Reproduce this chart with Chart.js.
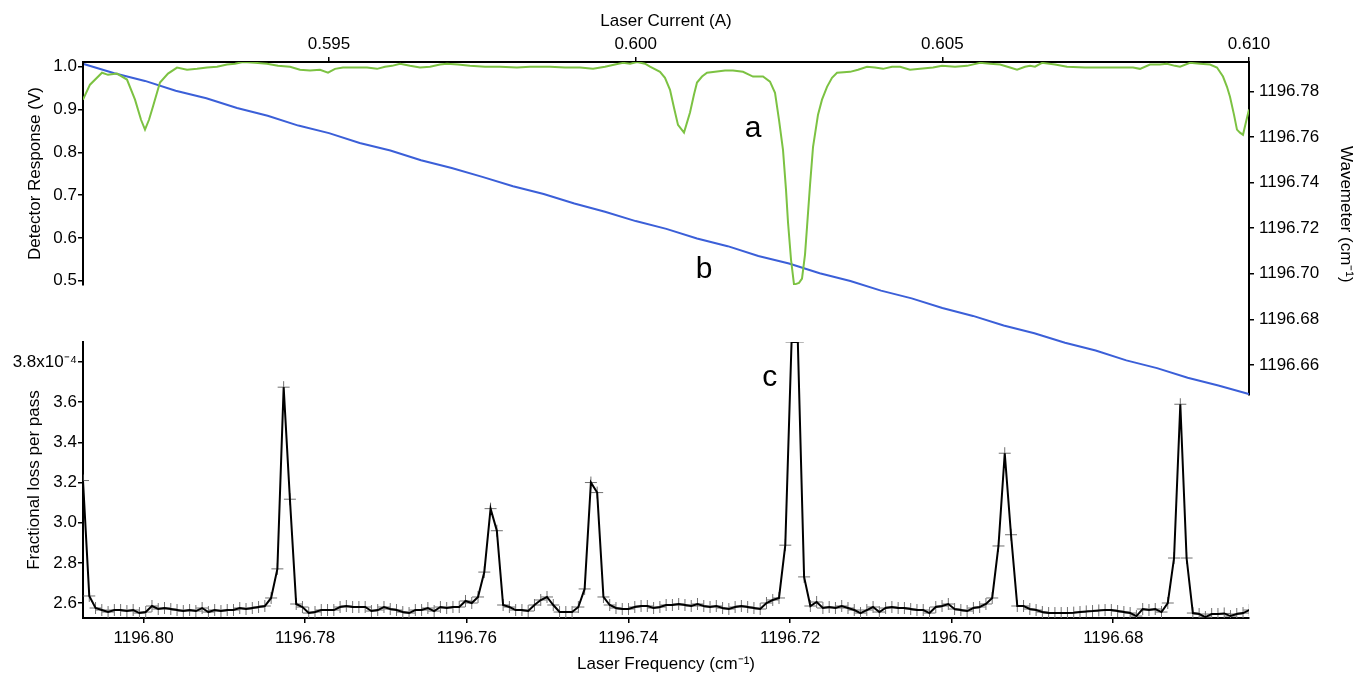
<!DOCTYPE html>
<html>
<head>
<meta charset="utf-8">
<title>Laser scan</title>
<script src="https://cdn.jsdelivr.net/npm/chart.js@4.4.1/dist/chart.umd.min.js"></script>
<style>
  html, body { margin: 0; padding: 0; background: #fff; overflow: hidden; }
  #wrap { position: relative; width: 1356px; height: 673px; }
  #wrap canvas { position: absolute; left: 0; top: 0; }
</style>
</head>
<body>
<div id="wrap">
  <canvas id="wavemeter" width="1356" height="673"></canvas>
  <canvas id="detector" width="1356" height="673"></canvas>
  <canvas id="loss" width="1356" height="673"></canvas>
</div>
<script>
// ---- tick labels ----
const currentTicks = [0.595, 0.600, 0.605, 0.610];
const currentTickLabels = ['0.595', '0.600', '0.605', '0.610'];
const voltTicks = [0.5, 0.6, 0.7, 0.8, 0.9, 1.0];
const voltTickLabels = ['0.5', '0.6', '0.7', '0.8', '0.9', '1.0'];
const waveTicks = [1196.66, 1196.68, 1196.70, 1196.72, 1196.74, 1196.76, 1196.78];
const waveTickLabels = ['1196.66', '1196.68', '1196.70', '1196.72', '1196.74', '1196.76', '1196.78'];
const freqTicks = [1196.80, 1196.78, 1196.76, 1196.74, 1196.72, 1196.70, 1196.68];
const freqTickLabels = ['1196.80', '1196.78', '1196.76', '1196.74', '1196.72', '1196.70', '1196.68'];
const lossTicks = [2.6, 2.8, 3.0, 3.2, 3.4, 3.6, 3.8];
const lossTickLabels = ['2.6', '2.8', '3.0', '3.2', '3.4', '3.6', '3.8x10\u207B\u2074'];

// ---- trace a: detector response (V) vs laser current (A) ----
const detCurrent = [
  0.590989, 0.591103, 0.591299, 0.591397, 0.591543, 0.591706, 0.591837, 0.591935, 0.592000, 0.592065,
  0.592130, 0.592244, 0.592375, 0.592522, 0.592685, 0.592848, 0.593011, 0.593174, 0.593337, 0.593467,
  0.593598, 0.593793, 0.593989, 0.594168, 0.594364, 0.594527, 0.594690, 0.594853, 0.594984, 0.595098,
  0.595228, 0.595424, 0.595620, 0.595783, 0.595913, 0.596027, 0.596158, 0.596321, 0.596484, 0.596647,
  0.596810, 0.596924, 0.597103, 0.597299, 0.597544, 0.597788, 0.598065, 0.598277, 0.598603, 0.598848,
  0.599093, 0.599305, 0.599500, 0.599663, 0.599794, 0.599908, 0.600022, 0.600152, 0.600234, 0.600397,
  0.600478, 0.600560, 0.600625, 0.600690, 0.600788, 0.600886, 0.600951, 0.601000, 0.601082, 0.601163,
  0.601294, 0.601457, 0.601587, 0.601750, 0.601913, 0.602076, 0.602190, 0.602272, 0.602337, 0.602402,
  0.602451, 0.602484, 0.602533, 0.602582, 0.602663, 0.602712, 0.602761, 0.602794, 0.602843, 0.602892,
  0.602973, 0.603038, 0.603120, 0.603201, 0.603283, 0.603495, 0.603625, 0.603772, 0.603902, 0.604033,
  0.604180, 0.604310, 0.604473, 0.604636, 0.604848, 0.604995, 0.605207, 0.605403, 0.605615, 0.605778,
  0.605941, 0.606104, 0.606218, 0.606348, 0.606430, 0.606511, 0.606625, 0.606837, 0.607033, 0.607326,
  0.607571, 0.607897, 0.608109, 0.608223, 0.608386, 0.608549, 0.608663, 0.608793, 0.608875, 0.609038,
  0.609201, 0.609364, 0.609478, 0.609576, 0.609641, 0.609690, 0.609755, 0.609804, 0.609853, 0.609902,
  0.609951, 0.610000
];
const detVolts = [
  0.923, 0.958, 0.986, 0.981, 0.984, 0.970, 0.923, 0.876, 0.853, 0.876,
  0.907, 0.963, 0.984, 0.998, 0.993, 0.995, 0.998, 1.000, 1.005, 1.007,
  1.011, 1.009, 1.007, 1.002, 1.000, 0.993, 0.991, 0.993, 0.986, 0.995,
  0.998, 0.998, 0.998, 0.995, 1.000, 1.002, 1.007, 1.002, 0.998, 1.000,
  1.005, 1.007, 1.005, 1.002, 1.000, 1.000, 0.998, 1.000, 1.000, 0.998,
  0.998, 0.995, 1.000, 1.005, 1.009, 1.007, 1.011, 1.007, 1.000, 0.988,
  0.974, 0.946, 0.904, 0.864, 0.846, 0.893, 0.935, 0.963, 0.977, 0.986,
  0.988, 0.991, 0.991, 0.988, 0.977, 0.977, 0.965, 0.939, 0.876, 0.806,
  0.713, 0.636, 0.549, 0.491, 0.495, 0.505, 0.561, 0.626, 0.724, 0.813,
  0.888, 0.923, 0.953, 0.974, 0.986, 0.988, 0.993, 1.000, 0.998, 0.995,
  1.000, 1.000, 0.993, 0.995, 0.998, 1.002, 1.000, 1.002, 1.009, 1.007,
  1.005, 0.998, 0.993, 1.000, 1.002, 1.000, 1.009, 1.005, 1.000, 0.998,
  0.998, 0.998, 0.998, 0.995, 1.005, 1.005, 1.007, 1.002, 1.000, 1.009,
  1.007, 1.005, 0.998, 0.977, 0.953, 0.930, 0.888, 0.853, 0.846, 0.841,
  0.871, 0.900
];

// ---- trace b: wavemeter reading (cm-1), sampled every 0.5 mA ----
const waveCurrentStart = 0.5910;
const waveCurrentStep = 0.0005;
const waveReading = [
  1196.7920, 1196.7880, 1196.7846, 1196.7803, 1196.7770, 1196.7727, 1196.7693, 1196.7650, 1196.7617, 1196.7574,
  1196.7541, 1196.7498, 1196.7464, 1196.7425, 1196.7384, 1196.7350, 1196.7308, 1196.7272, 1196.7231, 1196.7197,
  1196.7155, 1196.7121, 1196.7078, 1196.7045, 1196.7002, 1196.6968, 1196.6926, 1196.6892, 1196.6850, 1196.6815,
  1196.6773, 1196.6739, 1196.6697, 1196.6663, 1196.6620, 1196.6586, 1196.6544, 1196.6510, 1196.6472
];

// ---- trace c: fractional loss per pass (x1e-4), one point per scan step ----
const lossScanStart = 1196.8075;
const lossScanStep = 0.000776;
const lossValues = [
  3.21, 2.635, 2.575, 2.565, 2.555, 2.565, 2.565, 2.56, 2.565, 2.55,
  2.555, 2.585, 2.57, 2.575, 2.57, 2.565, 2.56, 2.565, 2.56, 2.575,
  2.555, 2.565, 2.56, 2.565, 2.565, 2.575, 2.57, 2.575, 2.58, 2.585,
  2.625, 2.77, 3.675, 3.117, 2.595, 2.58, 2.55, 2.555, 2.565, 2.565,
  2.565, 2.58, 2.585, 2.58, 2.58, 2.58, 2.56, 2.565, 2.58, 2.57,
  2.565, 2.555, 2.55, 2.565, 2.565, 2.575, 2.56, 2.58, 2.575, 2.58,
  2.58, 2.61, 2.6, 2.63, 2.754, 3.07, 2.96, 2.59, 2.58, 2.565,
  2.565, 2.56, 2.59, 2.615, 2.63, 2.59, 2.555, 2.555, 2.555, 2.58,
  2.67, 3.2, 3.15, 2.63, 2.59, 2.575, 2.57, 2.57, 2.58, 2.585,
  2.585, 2.575, 2.58, 2.59, 2.59, 2.595, 2.59, 2.585, 2.595, 2.585,
  2.58, 2.585, 2.575, 2.57, 2.58, 2.585, 2.58, 2.575, 2.57, 2.6,
  2.615, 2.625, 2.888, 3.9, 3.9, 2.73, 2.585, 2.605, 2.575, 2.58,
  2.575, 2.585, 2.575, 2.565, 2.55, 2.565, 2.58, 2.555, 2.575, 2.58,
  2.575, 2.575, 2.57, 2.565, 2.565, 2.55, 2.58, 2.585, 2.595, 2.57,
  2.565, 2.56, 2.575, 2.58, 2.595, 2.625, 2.884, 3.346, 2.94, 2.585,
  2.585, 2.57, 2.565, 2.555, 2.55, 2.55, 2.55, 2.55, 2.552, 2.555,
  2.558, 2.56, 2.563, 2.565, 2.565, 2.56, 2.555, 2.55, 2.535, 2.57,
  2.565, 2.57, 2.555, 2.6, 2.824, 3.59, 2.824, 2.55, 2.545, 2.53,
  2.545, 2.545, 2.548, 2.535, 2.545, 2.55, 2.565
];

// ---- styling shared by all three panels ----
Chart.defaults.font.family = '"Liberation Sans", Arial, Helvetica, sans-serif';
Chart.defaults.font.size = 17;
Chart.defaults.color = '#000';

const GREEN = '#7cc242';
const BLUE = '#3b5fd8';

const axisGrid = { drawOnChartArea: false, drawTicks: true, tickLength: 5, color: '#000', lineWidth: 1.5 };
const axisBorder = { display: true, color: '#000', width: 2 };

function fixedTicks(values) {
  return scale => { scale.ticks = values.map(v => ({ value: v })); };
}

function baseOptions(padding) {
  return {
    responsive: false,
    animation: false,
    devicePixelRatio: 1,
    layout: { padding },
    plugins: { legend: { display: false }, tooltip: { enabled: false } },
    elements: { line: { tension: 0 } }
  };
}

// trace letters, placed in data coordinates
function letterPlugin(letter, xId, xVal, yId, yVal) {
  return {
    id: 'letter_' + letter,
    afterDatasetsDraw(chart) {
      const ctx = chart.ctx;
      ctx.save();
      ctx.font = '30px "Liberation Sans", Arial, sans-serif';
      ctx.fillStyle = '#000';
      ctx.textAlign = 'center';
      ctx.textBaseline = 'alphabetic';
      ctx.fillText(letter, chart.scales[xId].getPixelForValue(xVal), chart.scales[yId].getPixelForValue(yVal));
      ctx.restore();
    }
  };
}

// panel b: wavemeter against current (right axis, drawn underneath)
const waveOpts = baseOptions({ left: 83, right: 0, top: 62, bottom: 278 });
waveOpts.scales = {
  x: { type: 'linear', display: false, min: 0.590989, max: 0.610 },
  y: {
    type: 'linear', position: 'right', min: 1196.6468, max: 1196.7929,
    afterBuildTicks: fixedTicks(waveTicks),
    afterFit: s => { s.width = 107; },
    ticks: { autoSkip: false, padding: 5, callback: (v, i) => waveTickLabels[i] },
    grid: axisGrid, border: axisBorder,
    // trailing spaces lift the title a little toward the top of the axis
    title: { display: true, text: 'Wavemeter (cm\u207B\u00B9)' + '\u00A0'.repeat(6), padding: { top: 0, bottom: 0 } }
  }
};
new Chart(document.getElementById('wavemeter'), {
  type: 'line',
  data: {
    datasets: [{
      data: waveReading.map((w, i) => ({ x: waveCurrentStart + i * waveCurrentStep, y: w })),
      borderColor: BLUE, borderWidth: 2, pointRadius: 0
    }]
  },
  options: waveOpts,
  plugins: [letterPlugin('b', 'x', 0.601114, 'y', 1196.6982)]
});

// panel a: detector response against current (top and left axes)
const detOpts = baseOptions({ left: 0, right: 107, top: 0, bottom: 388 });
detOpts.scales = {
  x: {
    type: 'linear', position: 'top', min: 0.590989, max: 0.610,
    afterBuildTicks: fixedTicks(currentTicks),
    afterFit: s => { s.height = 62; },
    ticks: { autoSkip: false, maxRotation: 0, padding: 2, callback: (v, i) => currentTickLabels[i] },
    grid: axisGrid, border: axisBorder,
    title: { display: true, text: 'Laser Current (A)', padding: { top: 11, bottom: 0 } }
  },
  y: {
    type: 'linear', position: 'left', min: 0.49, max: 1.011,
    afterBuildTicks: fixedTicks(voltTicks),
    afterFit: s => { s.width = 83; },
    ticks: { autoSkip: false, padding: 1, callback: (v, i) => voltTickLabels[i] },
    grid: axisGrid, border: axisBorder,
    title: { display: true, text: 'Detector Response (V)', padding: { top: 25, bottom: 0 } }
  }
};
new Chart(document.getElementById('detector'), {
  type: 'line',
  data: {
    datasets: [{
      data: detCurrent.map((c, i) => ({ x: c, y: detVolts[i] })),
      borderColor: GREEN, borderWidth: 2, pointRadius: 0
    }]
  },
  options: detOpts,
  plugins: [letterPlugin('a', 'x', 0.601913, 'y', 0.8364)]
});

// panel c: ring-down loss against laser frequency (bottom and left axes)
const lossPoints = lossValues.map((v, i) => ({ x: lossScanStart - i * lossScanStep, y: v }));
const lossOpts = baseOptions({ left: 0, right: 107, top: 342, bottom: 0 });
lossOpts.scales = {
  x: {
    type: 'linear', position: 'bottom', reverse: true, min: 1196.6632, max: 1196.8075,
    afterBuildTicks: fixedTicks(freqTicks),
    afterFit: s => { s.height = 55; },
    ticks: { autoSkip: false, maxRotation: 0, padding: 5, callback: (v, i) => freqTickLabels[i] },
    grid: axisGrid, border: axisBorder,
    title: { display: true, text: 'Laser Frequency (cm\u207B\u00B9)', padding: { top: 0, bottom: -2 } }
  },
  y: {
    type: 'linear', position: 'left', min: 2.5253, max: 3.9,
    afterBuildTicks: fixedTicks(lossTicks),
    afterFit: s => { s.width = 83; },
    ticks: { autoSkip: false, padding: 1, callback: (v, i) => lossTickLabels[i] },
    grid: axisGrid, border: axisBorder,
    title: { display: true, text: 'Fractional loss per pass', padding: { top: 24, bottom: 0 } }
  }
};
new Chart(document.getElementById('loss'), {
  type: 'line',
  data: {
    datasets: [
      { data: lossPoints, borderColor: '#000', borderWidth: 2, pointRadius: 0 },
      {
        data: lossPoints, showLine: false, pointStyle: 'cross', pointRadius: 6,
        pointBorderColor: '#707070', pointBorderWidth: 1, borderColor: '#707070'
      }
    ]
  },
  options: lossOpts,
  plugins: [letterPlugin('c', 'x', 1196.7225, 'y', 3.68)]
});
</script>
</body>
</html>
